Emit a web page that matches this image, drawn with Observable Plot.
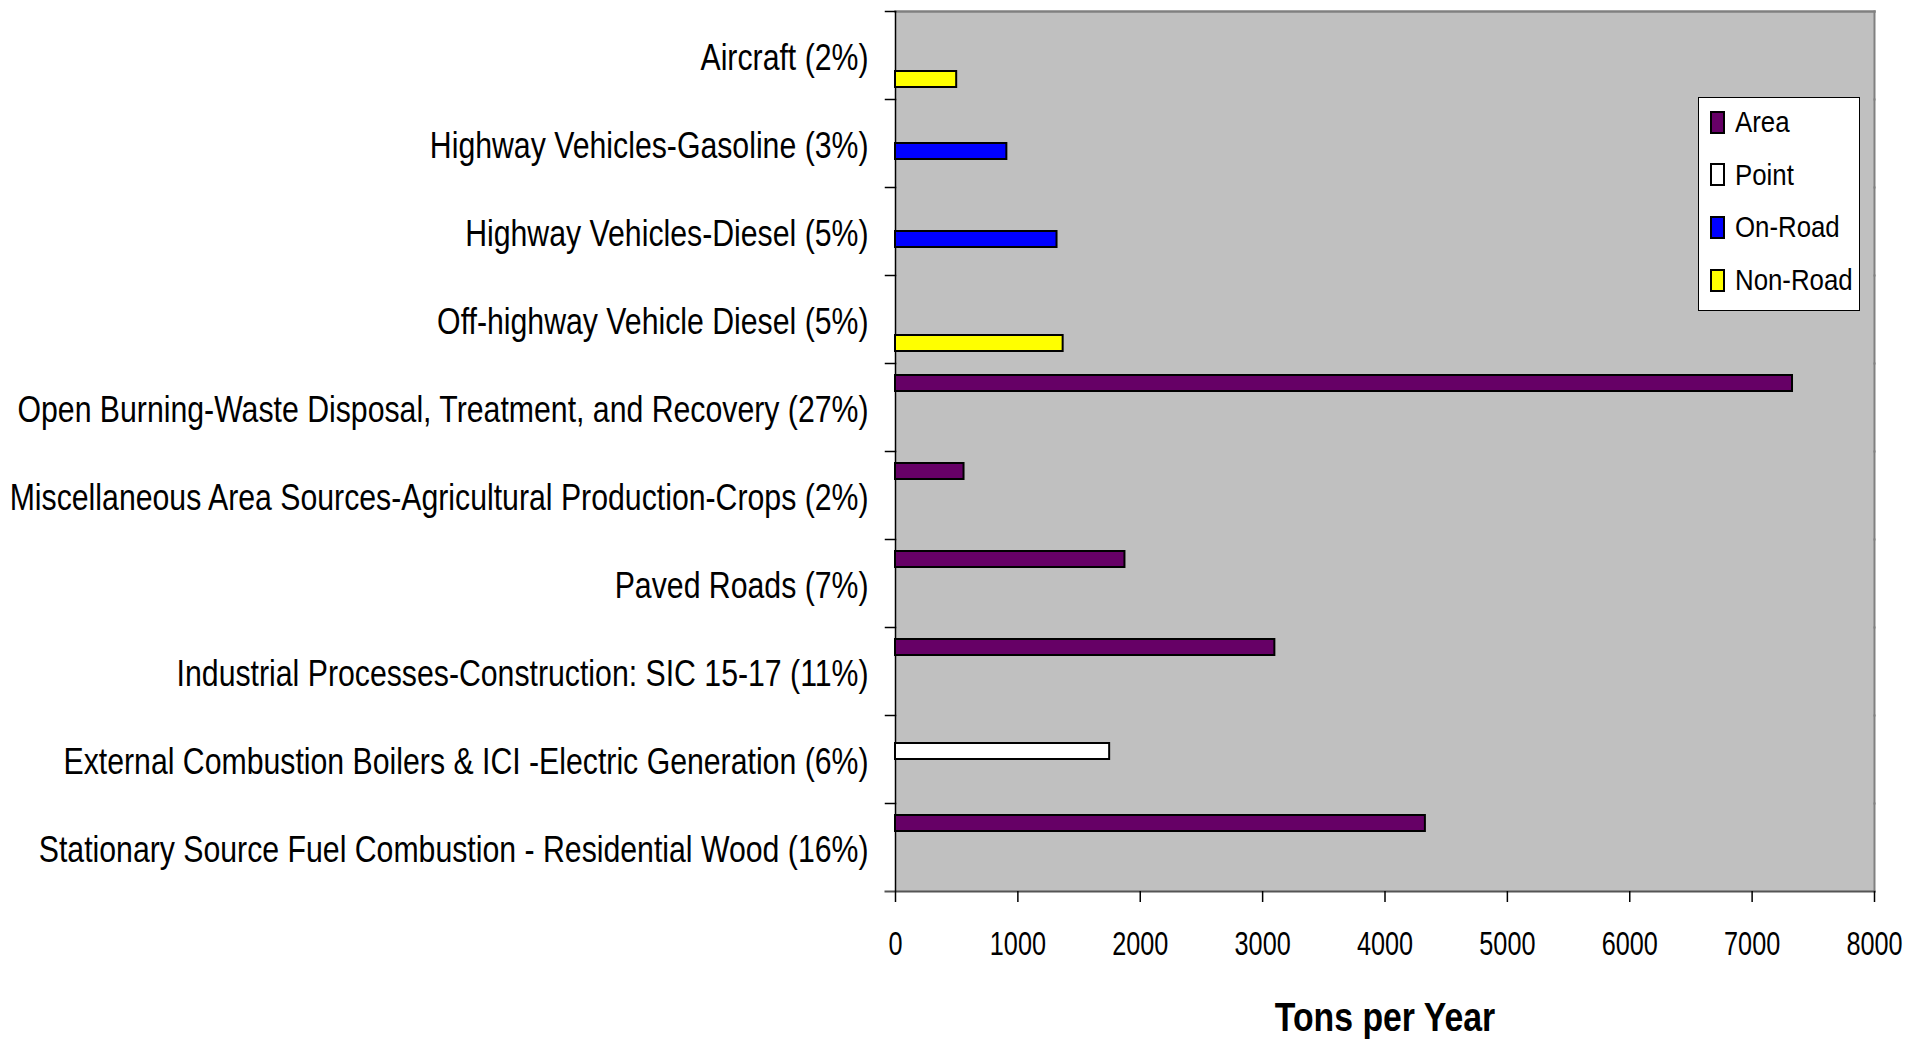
<!DOCTYPE html>
<html><head><meta charset="utf-8">
<script src="https://cdn.jsdelivr.net/npm/d3@7"></script>
<script src="https://cdn.jsdelivr.net/npm/@observablehq/plot@0.6"></script>
<style>
body{margin:0;background:#fff;}
#wrap{position:relative;width:1909px;height:1041px;font-family:"Liberation Sans",Arial,sans-serif;}
#legend{position:absolute;left:1698px;top:97px;width:162px;height:214px;background:#fff;border:1.5px solid #000;box-sizing:border-box;}
.item{position:absolute;left:11px;height:30px;display:flex;align-items:center;font-size:30px;color:#000;white-space:nowrap;}
.sw{width:11px;height:19px;border:2px solid #000;margin-right:10px;flex:none;}
.item span{display:inline-block;transform:scaleX(0.86);transform-origin:left center;}
</style></head><body><div id="wrap"></div>
<script>
const categories = [
  "Aircraft (2%)",
  "Highway Vehicles-Gasoline (3%)",
  "Highway Vehicles-Diesel (5%)",
  "Off-highway Vehicle Diesel (5%)",
  "Open Burning-Waste Disposal, Treatment, and Recovery (27%)",
  "Miscellaneous Area Sources-Agricultural Production-Crops (2%)",
  "Paved Roads (7%)",
  "Industrial Processes-Construction: SIC 15-17 (11%)",
  "External Combustion Boilers & ICI -Electric Generation (6%)",
  "Stationary Source Fuel Combustion - Residential Wood (16%)"
];
const categorySeries = ["Non-Road","On-Road","On-Road","Non-Road","Area","Area","Area","Area","Point","Area"];
const values = [500, 910, 1320, 1370, 7330, 560, 1875, 3100, 1750, 4330];
const seriesNames = ["Area","Point","On-Road","Non-Road"];
const seriesColors = ["#660066","#ffffff","#0000ff","#ffff00"];
const xTicks = [0,1000,2000,3000,4000,5000,6000,7000,8000];
const xLabel = "Tons per Year";

const data = categories.map((c,i)=>({category:c, series:categorySeries[i], value:values[i]}));

const W = 1909, H = 1041, mL = 895, mR = 35, mT = 10, mB = 150;
const plotW = W - mL - mR;
const FONT = '"Liberation Sans",Arial,sans-serif';

const chart = Plot.plot({
  width: W, height: H,
  marginLeft: mL, marginRight: mR, marginTop: mT, marginBottom: mB,
  style: {fontFamily: FONT, color: "#000", background: "#fff", overflow: "visible"},
  x: {domain: [0, 8000]},
  fy: {domain: categories, padding: 0},
  y: {domain: seriesNames, paddingInner: 0, paddingOuter: 0.667, axis: null},
  color: {domain: seriesNames, range: seriesColors},
  marks: [
    Plot.frame({fill: "#c0c0c0", stroke: "#c0c0c0", strokeWidth: 1}),
    Plot.frame({anchor: "right", stroke: "#808080", strokeWidth: 2}),
    Plot.frame({anchor: "top", stroke: "#808080", strokeWidth: 2.5, facetAnchor: "top"}),
    Plot.frame({anchor: "top", stroke: "#000", strokeWidth: 1.5, insetLeft: -10, insetRight: plotW}),
    Plot.frame({anchor: "bottom", stroke: "#555", strokeWidth: 2, insetLeft: -10, facetAnchor: "bottom"}),
    Plot.ruleX([0], {stroke: "#000", strokeWidth: 1.5}),
    Plot.barX(data, {fy: "category", y: "series", x: "value", fill: "series", stroke: "#000", strokeWidth: 2}),
    Plot.axisX(xTicks, {tickSize: 11, tickPadding: 29, fontSize: 33, tickFormat: d => String(d), label: null, strokeWidth: 1.5}),
    Plot.axisX({ticks: [], tickSize: 0, label: xLabel, labelAnchor: "center", labelArrow: "none", labelOffset: 139, fontSize: 40, fontWeight: "bold"}),
    Plot.axisFy({anchor: "left", tickSize: 0, tickPadding: 27, fontSize: 36, label: null, dy: 3})
  ]
});
const wrap = document.getElementById("wrap");
wrap.appendChild(chart);

// Narrow the Arial-metric glyphs horizontally to mimic the condensed face of the original
chart.querySelectorAll("text").forEach(t => {
  const fs = parseFloat(getComputedStyle(t).fontSize);
  const squeeze = fs <= 34 ? 0.765 : (fs >= 40 ? 0.845 : 0.84);
  const parts = t.querySelector("tspan") ? t.querySelectorAll("tspan") : [t];
  parts.forEach(s => {
    const L = s.getComputedTextLength();
    if (L > 0) { s.setAttribute("textLength", L * squeeze); s.setAttribute("lengthAdjust", "spacingAndGlyphs"); }
  });
});

const legend = document.createElement("div");
legend.id = "legend";
seriesNames.forEach((s,i)=>{
  const it = document.createElement("div");
  it.className = "item";
  it.style.top = (9 + i*52.7) + "px";
  const sw = document.createElement("div");
  sw.className = "sw";
  sw.style.background = seriesColors[i];
  const t = document.createElement("span");
  t.textContent = s;
  it.appendChild(sw); it.appendChild(t);
  legend.appendChild(it);
});
wrap.appendChild(legend);
</script></body></html>
